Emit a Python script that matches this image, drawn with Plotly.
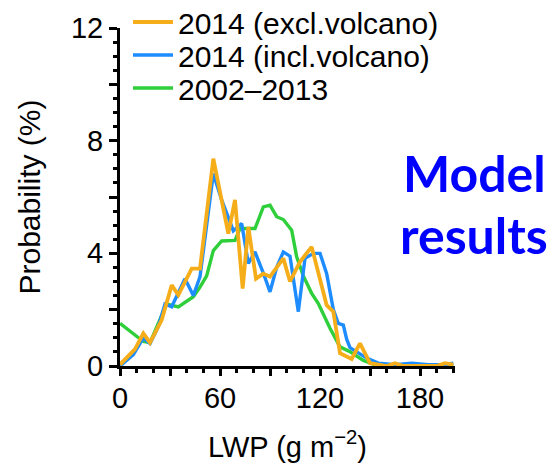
import plotly.graph_objects as go

# 2014 (excl. volcano)
x_excl = [0, 5, 9, 14, 18, 25, 31, 35, 39, 43, 48, 56, 65, 69, 73.6, 77, 81.6, 86, 90, 98, 102, 108, 115, 124, 128, 132, 139, 144, 150, 160, 165, 170, 190, 195, 200]
y_excl = [0.05, 0.35, 0.6, 1.16, 0.83, 1.63, 2.87, 2.52, 3.0, 3.46, 3.46, 7.36, 4.7, 5.9, 2.75, 4.94, 3.1, 3.28, 3.17, 3.82, 3.0, 3.7, 4.23, 2.16, 1.93, 0.45, 0.25, 0.8, 0.1, 0.0, 0.1, 0.0, 0.0, 0.1, 0.05]

# 2014 (incl. volcano)
x_incl = [0, 8, 14, 18, 23, 27, 31, 35, 39, 44, 48, 56, 61, 68, 73, 77, 81, 86, 90, 94, 98, 102, 107, 111, 116, 120, 124, 128, 131, 134, 136, 138, 142, 148, 155, 165, 175, 185, 195, 200]
y_incl = [0.0, 0.4, 1.0, 0.8, 1.4, 2.2, 2.1, 2.6, 3.1, 2.5, 3.17, 6.83, 5.9, 4.8, 5.06, 3.64, 4.05, 3.3, 2.63, 3.5, 4.05, 3.9, 1.93, 3.82, 4.0, 4.0, 3.28, 2.0, 1.51, 1.45, 0.95, 0.65, 0.5, 0.28, 0.1, 0.05, 0.1, 0.05, 0.05, 0.1]

# 2002-2013
x_clim = [0, 8, 14, 18, 23, 28, 35, 44, 48, 52, 56, 61, 69, 72, 81, 86, 90, 94, 98, 103, 106, 110, 115, 119, 126, 132, 138, 146, 155, 170, 190, 200]
y_clim = [1.51, 1.16, 0.87, 0.83, 1.5, 2.2, 2.1, 2.46, 2.8, 3.2, 4.1, 4.44, 4.46, 4.88, 4.88, 5.65, 5.71, 5.3, 5.2, 4.82, 3.88, 3.2, 2.58, 2.22, 1.34, 0.68, 0.51, 0.2, 0.0, 0.0, 0.05, 0.0]

x_tickvals = [0, 30, 60, 90, 120, 150, 180]
x_ticktext = ["0", "", "60", "", "120", "", "180"]
y_tickvals = [0, 2, 4, 6, 8, 10, 12]
y_ticktext = ["0", "", "4", "", "8", "", "12"]

FONT = "Liberation Sans, Arial, sans-serif"
FS = 29
ORANGE = "#F5AE1A"
BLUE = "#1C8CFF"
GREEN = "#2ECF3A"

W, H = 551, 465
ML, MR, MT, MB = 120, 96, 28, 99
PH = H - MT - MB
PW = W - ML - MR

def py(ypx):
    return (H - MB - ypx) / PH

def px(xpx):
    return (xpx - ML) / PW

fig = go.Figure()
fig.add_trace(go.Scatter(x=x_clim, y=y_clim, mode="lines", name="2002–2013",
                         line=dict(color=GREEN, width=3.4), legend="legend3"))
fig.add_trace(go.Scatter(x=x_incl, y=y_incl, mode="lines", name="2014 (incl.volcano)",
                         line=dict(color=BLUE, width=3.4), legend="legend2"))
fig.add_trace(go.Scatter(x=x_excl, y=y_excl, mode="lines", name="2014 (excl.volcano)",
                         line=dict(color=ORANGE, width=3.8), legend="legend"))

def leg(ypx):
    return dict(x=px(128), y=py(ypx), xanchor="left", yanchor="middle",
                bgcolor="rgba(0,0,0,0)", font=dict(family=FONT, size=30, color="black"),
                itemwidth=40)

fig.update_layout(
    width=W, height=H,
    margin=dict(l=ML, r=MR, t=MT, b=MB, autoexpand=False),
    paper_bgcolor="white", plot_bgcolor="white",
    font=dict(family=FONT, size=FS, color="black"),
    showlegend=True,
    legend=leg(22), legend2=leg(55), legend3=leg(88),
    xaxis=dict(range=[0, 201], showgrid=False, zeroline=False,
               showline=True, linecolor="black", linewidth=3,
               tickmode="array", tickvals=x_tickvals, ticktext=x_ticktext,
               ticks="outside", ticklen=7, tickwidth=2.5, tickcolor="black",
               minor=dict(dtick=10, ticks="outside", ticklen=4, tickwidth=2.5, tickcolor="black"),
               tickfont=dict(family=FONT, size=FS), ticklabelstandoff=-3,
               title=dict(text="LWP (g m<sup>−2</sup>)", font=dict(family=FONT, size=FS), standoff=24)),
    yaxis=dict(range=[0, 12], showgrid=False, zeroline=False,
               showline=True, linecolor="black", linewidth=3,
               tickmode="array", tickvals=y_tickvals, ticktext=y_ticktext,
               ticks="outside", ticklen=8, tickwidth=2.5, tickcolor="black",
               minor=dict(dtick=0.5, ticks="outside", ticklen=4, tickwidth=2.5, tickcolor="black"),
               tickfont=dict(family=FONT, size=FS),
               title=dict(text="Probability (%)", font=dict(family=FONT, size=30), standoff=22)),
)

for txt, ypx in [("Model", 173), ("results", 235)]:
    fig.add_annotation(text=txt, xref="paper", yref="paper",
                       x=px(474), y=py(ypx),
                       xanchor="center", yanchor="middle", showarrow=False,
                       font=dict(family="Lato", size=50, color="#0000FF", weight="bold"))

fig.write_html("out.html")
